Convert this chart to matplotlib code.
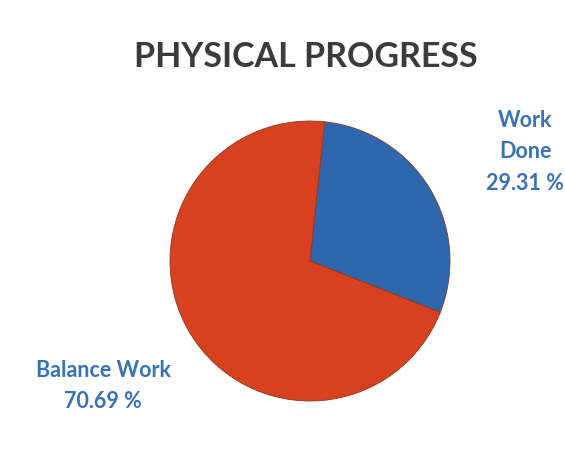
import matplotlib.pyplot as plt

# data
labels = ['Work\nDone', 'Balance Work']
values = [29.31, 70.69]
colors = ['#2E67AE', '#D8411F']
title = 'PHYSICAL PROGRESS'

plt.rcParams['font.family'] = ['Lato', 'DejaVu Sans']

fig = plt.figure(figsize=(5.65, 4.73), dpi=100)
fig.patch.set_facecolor('white')

# pie axes, square, placed where the reference pie sits
ax = fig.add_axes([170 / 565, (473 - 261 - 140) / 473, 280 / 565, 280 / 473])
ax.pie(values, colors=colors, startangle=84, counterclock=False, radius=1,
       wedgeprops=dict(linewidth=0.6, edgecolor='#8a3a20'))
ax.set_xlim(-1.0, 1.0)
ax.set_ylim(-1.0, 1.0)
ax.set_aspect('equal')
ax.axis('off')

label_color = '#3A72B6'
fig.text(306 / 565, 1 - 57 / 473, title, ha='center', va='center',
         fontsize=24.5, fontweight='bold', color='#3b3b3b')
fig.text(525 / 565, 1 - 152 / 473, f'{labels[0]}\n{values[0]:.2f} %',
         ha='center', va='center', fontsize=15.5, fontweight='bold',
         color=label_color, linespacing=1.6)
fig.text(103 / 565, 1 - 386 / 473, f'{labels[1]}\n{values[1]:.2f} %',
         ha='center', va='center', fontsize=15.5, fontweight='bold',
         color=label_color, linespacing=1.6)

fig.savefig('out.png', dpi=100)
